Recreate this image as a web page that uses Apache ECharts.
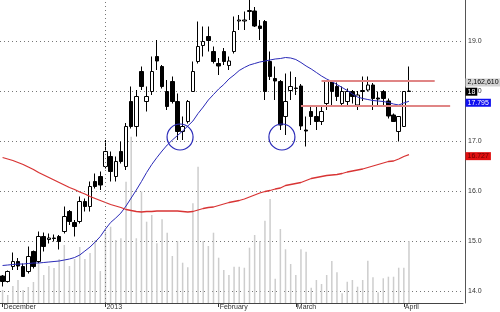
<!DOCTYPE html>
<html><head><meta charset="utf-8">
<script src="https://cdn.jsdelivr.net/npm/echarts@6/dist/echarts.min.js"></script>
<style>html,body{margin:0;padding:0;background:#fff}#c{width:500px;height:312px}</style>
</head><body><div id="c"></div>
<script>
// ---- data ----
const SLOTS = 90; // visible trading-day slots on the x axis (last ones are empty)
const tickIndex = [0, 20, 42, 57, 78];
const tickLabels = ['December', '2013', 'February', 'March', 'April'];

// [open, close, low, high]
const ohlc = [
 [14.30,14.19,14.09,14.32],[14.19,14.39,14.17,14.41],[14.49,14.59,14.42,14.77],[14.59,14.50,14.42,14.66],
 [14.49,14.29,14.28,14.55],[14.39,14.69,14.35,14.89],[14.79,14.49,14.45,14.81],[14.59,15.09,14.56,15.19],
 [15.09,14.89,14.79,15.17],[15.03,15.06,14.95,15.15],[15.06,15.05,14.99,15.13],[15.09,14.99,14.83,15.12],
 [15.19,15.49,15.15,15.69],[15.59,15.39,15.32,15.62],[15.37,15.29,15.09,15.42],[15.39,15.79,15.35,15.89],
 [15.79,15.69,15.59,15.85],[15.69,16.09,15.59,16.19],[16.19,16.09,16.05,16.35],[16.29,16.12,16.02,16.39],
 [16.49,16.79,16.45,17.02],[16.69,16.39,16.19,16.79],[16.29,16.59,16.19,16.69],[16.79,16.59,16.55,16.99],
 [16.49,17.29,16.42,17.36],[17.79,17.29,17.25,18.09],[17.29,17.89,17.09,18.02],[18.39,18.09,18.02,18.49],
 [17.79,17.89,17.59,18.09],[17.99,18.39,17.92,18.69],[18.69,18.60,18.42,19.02],[18.49,18.09,18.05,18.52],
 [17.99,17.69,17.62,18.22],[18.19,17.79,17.75,18.29],[17.79,17.19,17.02,17.95],[17.19,17.29,17.02,17.49],
 [17.39,17.79,17.35,17.82],[17.99,18.39,17.99,18.59],[18.59,18.89,18.55,19.39],[18.91,18.99,18.69,19.29],
 [19.09,19.01,18.79,19.29],[18.79,18.59,18.55,18.89],[18.55,18.50,18.32,18.66],[18.79,18.59,18.52,18.86],
 [18.51,18.60,18.42,18.69],[18.79,19.19,18.75,19.49],[19.40,19.42,19.22,19.52],[19.40,19.42,19.22,19.59],
 [19.59,19.61,19.42,19.82],[19.60,19.30,19.28,19.68],[19.30,19.25,19.02,19.42],[19.39,17.99,17.82,19.42],
 [18.59,18.29,18.22,18.79],[18.25,18.20,17.82,18.49],[18.19,17.32,17.22,18.22],[17.49,17.79,17.12,18.35],
 [18.01,18.09,17.82,18.39],[18.06,18.05,17.92,18.28],[18.10,17.30,17.22,18.14],[17.22,17.20,16.89,17.49],
 [17.59,17.49,17.32,17.72],[17.49,17.39,17.22,17.68],[17.39,17.59,17.32,17.72],[17.75,18.19,17.62,18.22],
 [18.19,17.99,17.69,18.22],[18.09,17.89,17.80,18.17],[17.75,17.99,17.69,18.09],[17.79,17.99,17.69,18.05],
 [17.99,17.89,17.75,18.02],[17.72,17.92,17.62,18.00],[17.99,18.01,17.80,18.29],[18.02,18.12,17.99,18.29],
 [18.12,17.85,17.62,18.16],[17.86,17.84,17.72,17.99],[17.99,17.85,17.68,18.02],[17.80,17.50,17.45,17.85],
 [17.52,17.39,17.39,17.55],[17.19,17.49,16.99,17.49],[17.29,17.99,17.29,17.99],[17.99,18.00,17.99,18.49]
];

const volume = [
 453000,279000,593000,802000,453000,558000,732000,1395000,977000,1291000,
 1221000,1535000,2023000,1291000,1535000,1953000,1535000,1744000,2197000,1116000,
 2487000,2661000,2197000,2257000,4231000,5801000,2257000,3882000,2836000,3069000,
 2082000,2919000,2452000,1639000,2163000,1406000,1245000,3477000,4754000,2163000,
 1988000,2452000,1580000,1151000,977000,1266000,1266000,1231000,1929000,2372000,
 2163000,2871000,3628000,848000,2581000,1873000,1360000,977000,1873000,1789000,
 534000,802000,663000,977000,1465000,1071000,338000,743000,802000,569000,
 802000,1475000,896000,373000,862000,917000,917000,1231000,1231000,2162610
];

const maShort = [
 14.51,14.52,14.53,14.54,14.54,14.55,14.56,14.56,14.57,14.58,
 14.59,14.60,14.62,14.64,14.67,14.72,14.80,14.88,14.98,15.09,
 15.24,15.37,15.46,15.56,15.70,15.86,16.02,16.19,16.37,16.53,
 16.67,16.80,16.92,17.02,17.11,17.20,17.30,17.40,17.55,17.68,
 17.82,17.93,18.04,18.13,18.24,18.32,18.41,18.47,18.52,18.55,
 18.58,18.60,18.62,18.64,18.65,18.67,18.66,18.63,18.57,18.50,
 18.44,18.37,18.30,18.24,18.19,18.13,18.07,18.01,17.94,17.88,
 17.85,17.83,17.81,17.80,17.79,17.77,17.74,17.72,17.76,17.795
];

const maLong = [
 16.67,16.64,16.61,16.57,16.53,16.48,16.43,16.37,16.32,16.27,
 16.22,16.17,16.12,16.07,16.03,15.98,15.94,15.89,15.85,15.81,
 15.77,15.73,15.70,15.67,15.63,15.61,15.59,15.58,15.59,15.59,
 15.60,15.60,15.60,15.60,15.60,15.59,15.58,15.59,15.62,15.65,
 15.67,15.68,15.71,15.74,15.77,15.79,15.81,15.84,15.88,15.92,
 15.96,15.99,16.01,16.04,16.06,16.11,16.13,16.15,16.17,16.21,
 16.25,16.27,16.29,16.31,16.32,16.33,16.35,16.38,16.40,16.42,
 16.44,16.47,16.50,16.53,16.56,16.59,16.60,16.64,16.69,16.727
];

const levelLines = [ // [fromIndex, toIndex, price]
 [62, 84, 18.2],
 [58, 87, 17.7]
];
const circleMarks = [ // [index, price]
 [34.5, 17.08],
 [54.3, 17.08]
];
const lastClose = 18.0;
const lastVolume = 2162610;

// ---- chart ----
const FONT = "'Liberation Sans', Arial, sans-serif";
const categories = Array.from({length: SLOTS}, (_, i) => String(i));
const isTick = (i) => tickIndex.indexOf(i) >= 0;

const chart = echarts.init(document.getElementById('c'), null, {renderer: 'canvas'});
chart.setOption({
  animation: false,
  backgroundColor: '#fff',
  grid: {left: 0, top: 0, width: 463, height: 303, containLabel: false},
  xAxis: {
    type: 'category', data: categories, boundaryGap: true,
    axisLine: {show: true, lineStyle: {color: '#444', width: 1}},
    axisTick: {show: true, interval: (i) => isTick(i), alignWithLabel: true, length: 4, lineStyle: {color: '#333'}},
    axisLabel: {
      interval: (i) => isTick(i),
      formatter: (v, i) => tickLabels[tickIndex.indexOf(i)] || '',
      align: 'left', margin: 1, padding: [0, 0, 0, 1],
      fontSize: 7, color: '#333', fontFamily: FONT
    },
    splitLine: {show: false}
  },
  yAxis: [{
    type: 'value', position: 'right', offset: 2,
    min: 13.76, max: 19.82, minInterval: 1, maxInterval: 1,
    axisLine: {show: true, lineStyle: {color: '#555'}},
    axisTick: {show: false},
    axisLabel: {
      showMinLabel: false, showMaxLabel: false, margin: 3,
      fontSize: 7, color: '#333', fontFamily: FONT,
      formatter: (v) => v.toFixed(1)
    },
    splitLine: {show: true, showMinLine: false, showMaxLine: false,
      lineStyle: {color: '#777', type: [1, 3], width: 1}}
  }, {
    type: 'value', min: 0, max: 10568640, show: false,
    splitLine: {show: false}
  }],
  series: [{
    type: 'bar', name: 'volume', xAxisIndex: 0, yAxisIndex: 1,
    data: volume, barWidth: 1.5, silent: true,
    itemStyle: {color: '#cdcdcd'}
  }, {
    type: 'candlestick', name: 'price', data: ohlc.map(d => [d[0], d[1], d[2], d[3]]),
    barWidth: 4, silent: true,
    itemStyle: {color: '#fff', color0: '#000', borderColor: '#000', borderColor0: '#000', borderWidth: 1},
    markLine: {
      silent: true, symbol: 'none', label: {show: false}, animation: false,
      data: [
        {xAxis: String(tickIndex[1]), lineStyle: {color: '#777', type: [1, 3], width: 1}},
        ...levelLines.map(l => [
          {coord: [String(l[0]), l[2]], lineStyle: {color: '#e08585', width: 2, type: 'solid'}},
          {coord: [String(l[1]), l[2]]}
        ])
      ]
    }
  }, {
    type: 'line', name: 'MA short', data: maShort, symbol: 'none', silent: true,
    lineStyle: {color: '#2a2ab8', width: 1}
  }, {
    type: 'line', name: 'MA long', data: maLong, symbol: 'none', silent: true,
    lineStyle: {color: '#d83434', width: 1.3}
  }]
});

// ---- overlays placed through the chart's own coordinate system ----
function pt(idx, v) {
  const i0 = Math.floor(idx), f = idx - i0;
  const a = chart.convertToPixel({xAxisIndex: 0, yAxisIndex: 0}, [i0, v]);
  const b = chart.convertToPixel({xAxisIndex: 0, yAxisIndex: 0}, [i0 + 1, v]);
  return [a[0] + (b[0] - a[0]) * f, a[1]];
}
const axisX = pt(0, 0)[0] - 2.57 + 465;
function badge(text, v, bg, fg, dy) {
  const y = pt(0, v)[1] + (dy || 0);
  return {
    type: 'text', x: 465.5, y: y, silent: true, z: 100,
    style: {text: text, fill: fg, backgroundColor: bg, padding: [1, 2, 0, 2],
      font: '7px ' + FONT, verticalAlign: 'middle', align: 'left'}
  };
}
const gfx = circleMarks.map(c => {
  const p = pt(c[0], c[1]);
  return {type: 'circle', silent: true, z: 50, shape: {cx: p[0], cy: p[1], r: 13},
    style: {fill: 'none', stroke: '#2a2ab8', lineWidth: 1.2}};
});
gfx.push(badge(lastVolume.toLocaleString('en-US'), lastClose, '#d2d2d2', '#000', -8.5));
gfx.push(badge('18', lastClose, '#000', '#fff', 0.7));
gfx.push(badge(maShort[maShort.length - 1].toFixed(3), maShort[maShort.length - 1], '#1010f0', '#fff', 1.5));
gfx.push(badge(maLong[maLong.length - 1].toFixed(3), maLong[maLong.length - 1], '#e01010', '#600', 1.5));
chart.setOption({graphic: gfx});
</script></body></html>
